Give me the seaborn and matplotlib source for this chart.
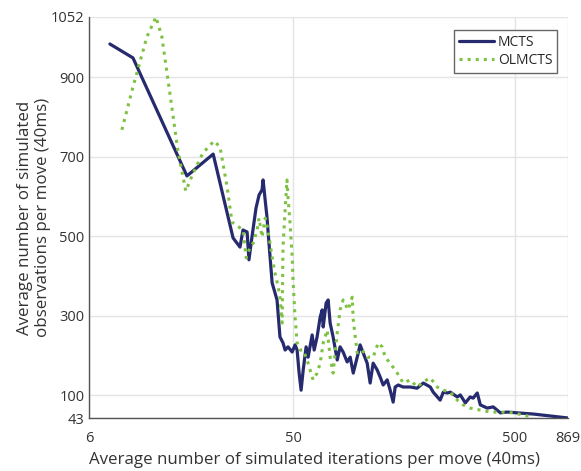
import pandas as pd
import seaborn as sns
import matplotlib.pyplot as plt

# data
mcts_x = [7.46, 9.48, 16.6, 21.8, 26.8, 28.8, 29.7, 31.0, 31.6, 32.6, 34.0, 35.1, 36.2, 36.6,
          37.4, 38.1, 38.9, 40.2, 42.3, 43.6, 45.0, 46.0, 47.4, 49.5, 51.0, 52.1, 53.2, 54.3,
          55.5, 57.2, 58.4, 60.9, 62.2, 64.1, 66.2, 67.6, 68.3, 70.4, 71.9, 73.4, 75.7, 79.0,
          81.4, 84.0, 87.6, 90.4, 93.3, 97.2, 100.2, 103.4, 107.8, 111.2, 114.7, 119.6, 123.4,
          127.3, 132.7, 136.9, 141.2, 144.2, 148.7, 156.7, 168.6, 181, 193, 207.6, 214, 230,
          237.6, 248, 255.6, 274.7, 283.5, 298.7, 314, 324, 338, 349, 375, 399, 430, 461, 512,
          605, 869]
mcts_y = [984, 949, 652, 707, 496, 473, 516, 511, 441, 498, 571, 604, 617, 642,
          591, 549, 483, 383, 340, 247, 232, 214, 222, 209, 227, 214, 156, 113,
          164, 222, 196, 252, 214, 247, 297, 315, 272, 332, 340, 282, 247, 189,
          222, 209, 184, 196, 156, 196, 227, 207, 181, 131, 181, 164, 146,
          126, 139, 113, 83, 121, 126, 121, 121, 118, 131, 121, 108, 88,
          108, 106, 108, 96, 101, 81, 96, 93, 106, 76, 68, 71, 56, 58, 56,
          53, 43]

olmcts_x = [8.45, 9.48, 10.96, 12.04, 12.8, 13.9, 15.1, 16.4, 17.7, 19.6, 22.0, 23.4, 25.2,
            26.5, 29.7, 30.7, 32.0, 33.0, 34.4, 35.1, 36.2, 37.4, 38.5, 40.2, 41.4, 42.8,
            43.6, 44.6, 45.0, 46.0, 46.9, 47.4, 48.4, 49.5, 50.0, 51.0, 52.1, 53.8, 55.5,
            57.8, 59.6, 61.5, 64.1, 66.2, 68.3, 71.2, 73.4, 75.7, 79.0, 81.4, 84.0, 88.5,
            92.3, 93.3, 97.2, 102.4, 107.8, 114.7, 120.9, 126, 130, 136.9, 147.3, 156.7,
            168.6, 181, 193, 207.6, 223, 237.6, 255.6, 274.7, 292, 314, 349, 387, 430, 491, 605]
olmcts_y = [768, 876, 1002, 1052, 1002, 861, 717, 614, 659, 710, 740, 725, 624,
            536, 516, 446, 473, 483, 516, 546, 498, 546, 516, 448, 408, 373,
            347, 282, 473, 566, 642, 599, 534, 448, 383, 297, 232, 214, 214,
            189, 164, 139, 156, 181, 232, 264, 196, 156, 257, 315, 340, 315,
            347, 290, 207, 214, 196, 196, 232, 222, 196, 181, 156, 131,
            139, 121, 134, 144, 121, 113, 108, 88, 76, 68, 63, 58, 58, 56, 45]

x_ticks = [6, 50, 500, 869]
y_ticks = [43, 100, 300, 500, 700, 900, 1052]

df_mcts = pd.DataFrame({"x": mcts_x, "y": mcts_y})
df_ol = pd.DataFrame({"x": olmcts_x, "y": olmcts_y})

sns.set_style("whitegrid")
plt.rcParams["font.family"] = ["Open Sans", "DejaVu Sans"]

fig = plt.figure(figsize=(5.81, 4.71), dpi=100)
ax = fig.add_axes([0.153, 0.1125, 0.825, 0.8515])

sns.lineplot(data=df_mcts, x="x", y="y", ax=ax, color="#262a6e", linewidth=2.3,
             label="MCTS", sort=False, estimator=None)
sns.lineplot(data=df_ol, x="x", y="y", ax=ax, color="#7dc242", linewidth=2.2,
             linestyle=":", label="OLMCTS", sort=False, estimator=None)

ax.set_xscale("log")
ax.set_xlim(6, 869)
ax.set_ylim(43, 1052)
ax.set_xticks(x_ticks)
ax.set_xticklabels([str(t) for t in x_ticks])
ax.set_yticks(y_ticks)
ax.set_yticklabels([str(t) for t in y_ticks])
ax.minorticks_off()

ax.grid(True, color="#e4e4e4", linewidth=1)
for s in ["top", "right"]:
    ax.spines[s].set_visible(False)
for s in ["left", "bottom"]:
    ax.spines[s].set_color("#555555")
    ax.spines[s].set_linewidth(1)
ax.tick_params(axis="both", direction="in", length=3, color="#555555",
               labelsize=10.5, labelcolor="#333333", pad=3)
ax.tick_params(axis="x", pad=9)

ax.set_xlabel("Average number of simulated iterations per move (40ms)",
              fontsize=12.2, color="#333333", labelpad=3)
ax.xaxis.set_label_coords(0.47, -0.085)
ax.set_ylabel("Average number of simulated\nobservations per move (40ms)",
              fontsize=12.2, color="#333333", labelpad=0)

leg = ax.legend(loc="upper right", bbox_to_anchor=(0.977, 0.968), borderaxespad=0,
                fontsize=10, frameon=True, fancybox=False, handlelength=2.5,
                handletextpad=0.3, borderpad=0.35, labelspacing=0.25)
leg.get_frame().set_edgecolor("#666666")
leg.get_frame().set_linewidth(1)
leg.get_frame().set_alpha(1)

fig.savefig("out.png", dpi=100)
